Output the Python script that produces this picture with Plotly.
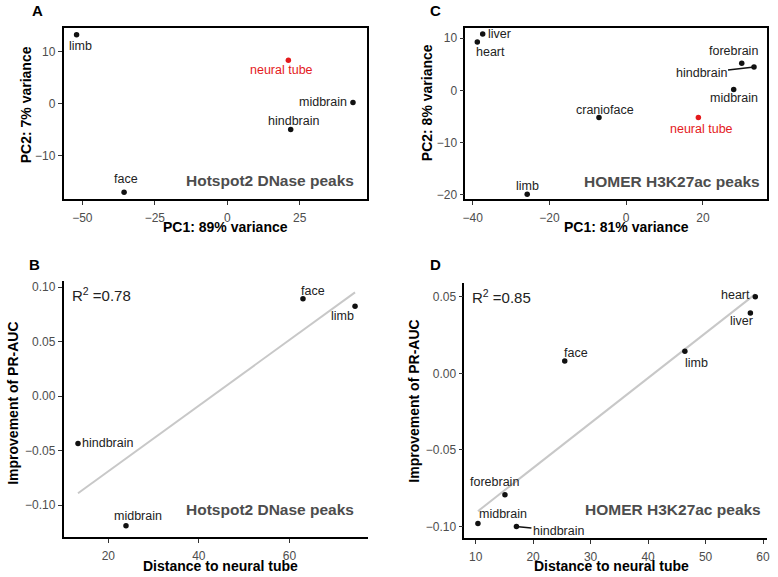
import numpy as np
import plotly.graph_objects as go

# panel A: PCA on Hotspot2 DNase peaks
a_names = ["limb", "neural tube", "midbrain", "hindbrain", "face"]
a_pc1 = [-52.0, 21.1, 43.4, 21.9, -35.6]
a_pc2 = [13.2, 8.3, 0.2, -5.0, -17.0]

# panel C: PCA on HOMER H3K27ac peaks
c_names = ["liver", "heart", "forebrain", "hindbrain", "midbrain", "cranioface", "neural tube", "limb"]
c_pc1 = [-37.4, -38.8, 30.1, 33.3, 28.0, -7.1, 18.8, -25.8]
c_pc2 = [10.8, 9.3, 5.2, 4.5, 0.2, -5.2, -5.2, -19.9]

# panel B: distance vs improvement, Hotspot2
b_names = ["face", "limb", "hindbrain", "midbrain"]
b_dist = [63.0, 74.5, 13.3, 23.9]
b_improve = [0.0894, 0.0824, -0.0434, -0.119]

# panel D: distance vs improvement, HOMER
d_names = ["heart", "liver", "limb", "face", "forebrain", "midbrain", "hindbrain"]
d_dist = [58.65, 57.8, 46.4, 25.5, 15.1, 10.4, 17.1]
d_improve = [0.050, 0.0394, 0.0145, 0.008, -0.0792, -0.098, -0.100]

W, H = 778, 577
FONT = "Liberation Sans, Arial, sans-serif"
RED = "#E41A1C"

def px(x):
    return x / W

def py(y):
    return 1 - y / H

fig = go.Figure()

axis_style = dict(showline=True, linecolor="black", linewidth=1.6, ticks="outside",
                  ticklen=4, tickwidth=1, tickcolor="#333333", showgrid=False, zeroline=False,
                  tickfont=dict(family=FONT, size=12, color="#4D4D4D"))

# domains / ranges per panel
panels = {
    "A": dict(xa="xaxis", ya="yaxis", xd=[px(61), px(367)], yd=[py(200), py(28)],
              xr=[-56.5, 48.3], yr=[-18.3, 14.5], xt=[-50, -25, 0, 25], yt=[-10, 0, 10], box=True),
    "C": dict(xa="xaxis2", ya="yaxis2", xd=[px(466), px(770)], yd=[py(200), py(28)],
              xr=[-41.9, 36.7], yr=[-20.8, 12.0], xt=[-40, -20, 0, 20], yt=[-20, -10, 0, 10], box=True),
    "B": dict(xa="xaxis3", ya="yaxis3", xd=[px(61), px(368)], yd=[py(540), py(282)],
              xr=[10.1, 77.4], yr=[-0.1294, 0.106], xt=[20, 40, 60], yt=[-0.10, -0.05, 0.0, 0.05, 0.10], box=False),
    "D": dict(xa="xaxis4", ya="yaxis4", xd=[px(465), px(770)], yd=[py(541), py(284)],
              xr=[8.05, 60.7], yr=[-0.1076, 0.0593], xt=[10, 20, 30, 40, 50, 60], yt=[-0.10, -0.05, 0.0, 0.05], box=False),
}

layout_axes = {}
for key, p in panels.items():
    xref = "x" + p["xa"][5:]
    yref = "y" + p["ya"][5:]
    layout_axes[p["xa"]] = dict(axis_style, domain=p["xd"], range=p["xr"], tickvals=p["xt"],
                                anchor=yref, mirror=p["box"], ticklabelstandoff=3)
    ya = dict(axis_style, domain=p["yd"], range=p["yr"], tickvals=p["yt"],
              anchor=xref, mirror=p["box"])
    if key in ("B", "D"):
        ya["tickformat"] = ".2f"
    layout_axes[p["ya"]] = ya
    p["xref"], p["yref"] = xref, yref

annotations = []

def add_points(key, names, xs, ys, offsets, leaders=()):
    p = panels[key]
    colors = [RED if n == "neural tube" else "#111111" for n in names]
    fig.add_trace(go.Scatter(x=xs, y=ys, mode="markers", xaxis=p["xref"], yaxis=p["yref"],
                             marker=dict(size=5.5, color=colors), showlegend=False))
    for n, x, y, c in zip(names, xs, ys, colors):
        dx, dy = offsets[n]
        a = dict(x=x, y=y, xref=p["xref"], yref=p["yref"], text=n,
                 font=dict(family=FONT, size=12.5, color=c if c == RED else "#222222"))
        if n in leaders:
            a.update(showarrow=True, ax=dx, ay=dy, arrowhead=0, arrowwidth=1.5,
                     arrowcolor="#111111", standoff=2, startstandoff=0)
        else:
            a.update(showarrow=False, xshift=dx, yshift=-dy, xanchor="center", yanchor="middle")
        annotations.append(a)

add_points("A", a_names, a_pc1, a_pc2,
           {"limb": (4, 11), "neural tube": (-7, 10), "midbrain": (-30, 0),
            "hindbrain": (3, -9), "face": (2, -13)})
add_points("C", c_names, c_pc1, c_pc2,
           {"liver": (17, 0), "heart": (13, 10), "forebrain": (-8, -12), "hindbrain": (-53, 6),
            "midbrain": (0, 9), "cranioface": (6, -8), "neural tube": (3, 11), "limb": (0, -8)},
           leaders=("hindbrain",))
add_points("B", b_names, b_dist, b_improve,
           {"face": (10, -8), "limb": (-13, 10), "hindbrain": (29, 0), "midbrain": (12, -10)})
add_points("D", d_names, d_dist, d_improve,
           {"heart": (-20, -2), "liver": (-9, 8), "limb": (12, 12), "face": (11, -8),
            "forebrain": (-10, -13), "midbrain": (25, -9), "hindbrain": (42, 4)},
           leaders=("hindbrain",))

# regression lines for B and D
for key, xs, ys, lx, ly in [("B", b_dist, b_improve, 67.7, 296), ("D", d_dist, d_improve, 471, 298)]:
    p = panels[key]
    slope, icpt = np.polyfit(xs, ys, 1)
    r2 = np.corrcoef(xs, ys)[0, 1] ** 2
    fx = np.array([min(xs), max(xs)])
    fig.add_trace(go.Scatter(x=fx, y=slope * fx + icpt, mode="lines", xaxis=p["xref"], yaxis=p["yref"],
                             line=dict(color="#C8C8C8", width=2), showlegend=False))
    annotations.append(dict(x=px(lx), y=py(ly), xref="paper", yref="paper", xanchor="left",
                            yanchor="middle", text="R<sup>2</sup> =%.2f" % r2, showarrow=False,
                            font=dict(family=FONT, size=15, color="#222222")))

# move line traces below points
fig.data = tuple([t for t in fig.data if t.mode == "lines"] + [t for t in fig.data if t.mode != "lines"])

# panel letters, subtitles, axis titles
for letter, x, y in [("A", 35, 0), ("C", 436, 0), ("B", 32, 255.5), ("D", 436, 255.5)]:
    annotations.append(dict(x=px(x), y=py(y), xref="paper", yref="paper", text="<b>%s</b>" % letter,
                            xanchor="center", yanchor="top", showarrow=False,
                            font=dict(family=FONT, size=15, color="black")))

for txt, x, y in [("Hotspot2 DNase peaks", 356, 181), ("HOMER H3K27ac peaks", 765, 182),
                  ("Hotspot2 DNase peaks", 356, 512), ("HOMER H3K27ac peaks", 766, 512)]:
    annotations.append(dict(x=px(x), y=py(y), xref="paper", yref="paper", xanchor="right",
                            yanchor="middle", text="<b>%s</b>" % txt, showarrow=False,
                            font=dict(family=FONT, size=15.5, color="#4D4D4D")))

for txt, x, y, ang in [("PC1: 89% variance", 224, 228, 0), ("PC2: 7% variance", 24, 105, -90),
                       ("PC1: 81% variance", 628, 228, 0), ("PC2: 8% variance", 428, 103, -90),
                       ("Distance to neural tube", 219, 569, 0), ("Improvement of PR-AUC", 10, 405, -90),
                       ("Distance to neural tube", 613, 569, 0), ("Improvement of PR-AUC", 414, 403, -90)]:
    annotations.append(dict(x=px(x), y=py(y), xref="paper", yref="paper", text="<b>%s</b>" % txt,
                            xanchor="center", yanchor="middle", textangle=ang, showarrow=False,
                            font=dict(family=FONT, size=14, color="black")))

fig.update_layout(width=W, height=H, margin=dict(l=0, r=0, t=0, b=0),
                  paper_bgcolor="white", plot_bgcolor="white",
                  annotations=annotations, **layout_axes)

# the page's default body margin would shift the figure by 8px
fig.write_html("out.html", config={"displayModeBar": False},
               post_script="document.body.style.margin='0';")
